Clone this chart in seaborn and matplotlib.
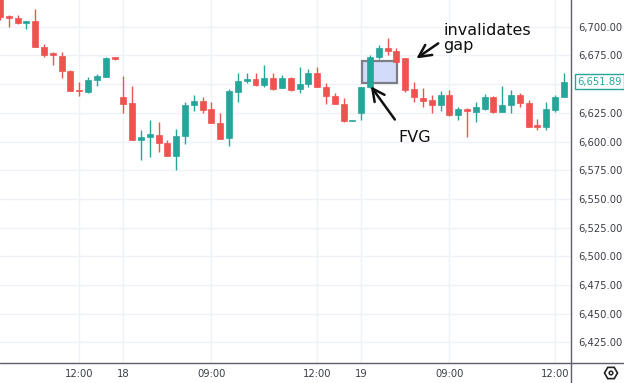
import matplotlib
matplotlib.use("Agg")
import matplotlib.pyplot as plt
import seaborn as sns
import numpy as np
import pandas as pd
from matplotlib.patches import Rectangle, RegularPolygon, Circle
from matplotlib.lines import Line2D
from matplotlib.transforms import IdentityTransform

# ---- data (15-min candles) ----
opens = [6726.0, 6709.3, 6707.3, 6703.5, 6705.0, 6682.6, 6676.8, 6674.5, 6661.7, 6644.5,
         6643.4, 6653.6, 6656.4, 6673.3, 6638.5, 6633.5, 6601.3, 6603.9, 6605.9, 6598.7,
         6587.4, 6604.8, 6631.8, 6635.3, 6628.0, 6615.9, 6602.8, 6643.4, 6653.0, 6654.2,
         6649.2, 6655.1, 6646.3, 6655.1, 6645.5, 6650.1, 6659.9, 6647.7, 6639.6, 6632.7,
         6617.9, 6625.1, 6647.7, 6673.3, 6681.2, 6679.1, 6672.5, 6645.5, 6638.2, 6636.1,
         6631.8, 6640.5, 6623.1, 6628.0, 6625.4, 6628.0, 6638.5, 6625.4, 6631.8, 6640.5,
         6633.8, 6614.1, 6612.6, 6627.4, 6638.8]
highs = [6728.0, 6710.2, 6710.2, 6705.0, 6715.2, 6684.9, 6678.2, 6678.2, 6662.3, 6652.1,
         6655.9, 6658.8, 6673.6, 6673.5, 6657.1, 6648.6, 6610.0, 6618.7, 6617.0, 6601.3,
         6610.9, 6634.7, 6640.1, 6638.5, 6634.4, 6624.6, 6645.5, 6659.9, 6659.9, 6659.4,
         6666.6, 6659.4, 6657.9, 6656.4, 6665.2, 6662.9, 6665.2, 6650.7, 6642.0, 6638.2,
         6617.9, 6647.2, 6675.3, 6684.1, 6689.9, 6681.2, 6672.5, 6652.1, 6646.3, 6640.5,
         6644.2, 6644.9, 6629.8, 6628.9, 6634.7, 6641.4, 6639.6, 6648.3, 6644.9, 6642.7,
         6636.1, 6619.3, 6634.4, 6640.5, 6659.4]
lows = [6706.0, 6700.0, 6702.1, 6698.0, 6682.1, 6673.3, 6666.6, 6655.1, 6644.0, 6639.6,
        6642.5, 6648.3, 6656.0, 6671.4, 6625.1, 6601.0, 6583.9, 6586.5, 6590.9, 6587.0,
        6575.2, 6597.8, 6626.6, 6624.6, 6615.9, 6601.9, 6596.3, 6634.7, 6650.7, 6648.6,
        6647.7, 6644.9, 6646.3, 6644.2, 6642.0, 6647.2, 6647.2, 6632.7, 6632.7, 6617.2,
        6617.9, 6618.7, 6646.3, 6671.9, 6675.3, 6668.1, 6643.4, 6634.7, 6629.8, 6624.6,
        6626.8, 6622.2, 6618.7, 6604.2, 6617.2, 6627.4, 6625.1, 6625.4, 6624.8, 6630.1,
        6612.4, 6609.6, 6610.0, 6626.0, 6638.8]
closes = [6708.5, 6707.3, 6703.5, 6705.0, 6682.1, 6675.3, 6675.3, 6661.4, 6644.0, 6644.0,
          6653.6, 6657.1, 6673.0, 6671.6, 6632.7, 6601.3, 6603.9, 6606.5, 6598.7, 6587.4,
          6604.8, 6632.2, 6635.3, 6627.4, 6615.9, 6601.9, 6644.2, 6652.7, 6654.2, 6649.2,
          6655.1, 6645.7, 6655.1, 6644.9, 6650.1, 6659.9, 6647.7, 6639.6, 6632.7, 6618.1,
          6617.9, 6647.2, 6673.3, 6681.6, 6679.1, 6669.5, 6644.9, 6638.5, 6635.5, 6631.8,
          6640.5, 6623.1, 6628.0, 6626.8, 6629.8, 6638.5, 6625.4, 6631.8, 6640.5, 6633.3,
          6612.9, 6612.9, 6628.0, 6639.0, 6651.89]

tick_positions = [9, 14, 24, 36, 41, 51, 63]
tick_labels = ["12:00", "18", "09:00", "12:00", "19", "09:00", "12:00"]
price_ticks = [6425, 6450, 6475, 6500, 6525, 6550, 6575, 6600, 6625, 6650, 6675, 6700]
last_price = 6651.89

fvg_x = [41.05, 45.03]
fvg_y = [6651.2, 6670.4]

UP = "#26a69a"
DOWN = "#ef5350"

df = pd.DataFrame({"open": opens, "high": highs, "low": lows, "close": closes})
df["idx"] = np.arange(len(df))
df["up"] = df["close"] >= df["open"]
df["color"] = np.where(df["up"], UP, DOWN)
df["body_lo"] = df[["open", "close"]].min(axis=1)
df["body_h"] = (df["open"] - df["close"]).abs().clip(lower=0.9)

sns.set_theme(style="white")
plt.rcParams["font.family"] = ["DejaVu Sans"]

W, H = 624, 383
fig = plt.figure(figsize=(W / 100, H / 100), dpi=100)
ax = fig.add_axes([0, 20 / H, 571 / W, 363 / H])

# grid
for p in price_ticks:
    ax.axhline(p, color="#eef1f6", lw=1, zorder=0)
for t in tick_positions:
    ax.axvline(t, color="#eef1f6", lw=1, zorder=0)

# FVG box
ax.add_patch(Rectangle((fvg_x[0], fvg_y[0]), fvg_x[1] - fvg_x[0], fvg_y[1] - fvg_y[0],
                       facecolor="#d3dbfa", edgecolor="#7d7f86", lw=1.6, zorder=1))

# candles
ax.vlines(df["idx"], df["low"], df["high"], colors=df["color"], lw=1, zorder=2)
ax.bar(df["idx"], df["body_h"], bottom=df["body_lo"], width=0.68,
       color=df["color"], edgecolor=df["color"], lw=0.5, zorder=3)

ax.set_xlim(0, 64.81)
ax.set_ylim(6407.0, 6723.3)
for s in ax.spines.values():
    s.set_visible(False)

ax.yaxis.tick_right()
ax.set_yticks(price_ticks)
ax.set_yticklabels(["" if p == 6650 else f"{p:,.2f}" for p in price_ticks])
ax.tick_params(axis="y", length=0, pad=5, labelsize=7.2, labelcolor="#3b3e47")
ax.set_xticks(tick_positions)
ax.set_xticklabels(tick_labels)
ax.tick_params(axis="x", length=0, pad=4, labelsize=7.2, labelcolor="#3b3e47")
ax.grid(False)

# annotations
ax.text(50.3, 6703.5, "invalidates\ngap", fontsize=11.5, color="#111111",
        va="top", ha="left", linespacing=1.0)
ax.annotate("", xy=(47.0, 6671.0), xytext=(50.0, 6686.9),
            arrowprops=dict(arrowstyle="->", lw=1.8, color="#111111", mutation_scale=22))
ax.text(47.1, 6603.5, "FVG", fontsize=11.5, color="#111111", va="center", ha="center")
ax.annotate("", xy=(41.9, 6650.1), xytext=(45.0, 6617.2),
            arrowprops=dict(arrowstyle="->", lw=1.8, color="#111111", mutation_scale=22))

# axis separator lines
fig.add_artist(Line2D([571 / W, 571 / W], [0, 1], color="#5d606b", lw=1, transform=fig.transFigure))
fig.add_artist(Line2D([0, 1], [20 / H, 20 / H], color="#5d606b", lw=1, transform=fig.transFigure))

# last price label
ax.text(1.0 + 6 / 571, last_price, f"{last_price:,.2f}", transform=ax.get_yaxis_transform(),
        fontsize=7.2, color=UP, va="center", ha="left", clip_on=False,
        bbox=dict(boxstyle="square,pad=0.25", facecolor="white", edgecolor=UP, lw=1))

# settings icon
fig.add_artist(RegularPolygon((611, 10), numVertices=6, radius=6.5, orientation=np.pi / 6,
                              facecolor="none", edgecolor="#222222", lw=1.2,
                              transform=IdentityTransform()))
fig.add_artist(Circle((611, 10), 1.8, facecolor="none", edgecolor="#222222", lw=1.1,
                      transform=IdentityTransform()))

fig.savefig("out.png", dpi=100, facecolor="white")
